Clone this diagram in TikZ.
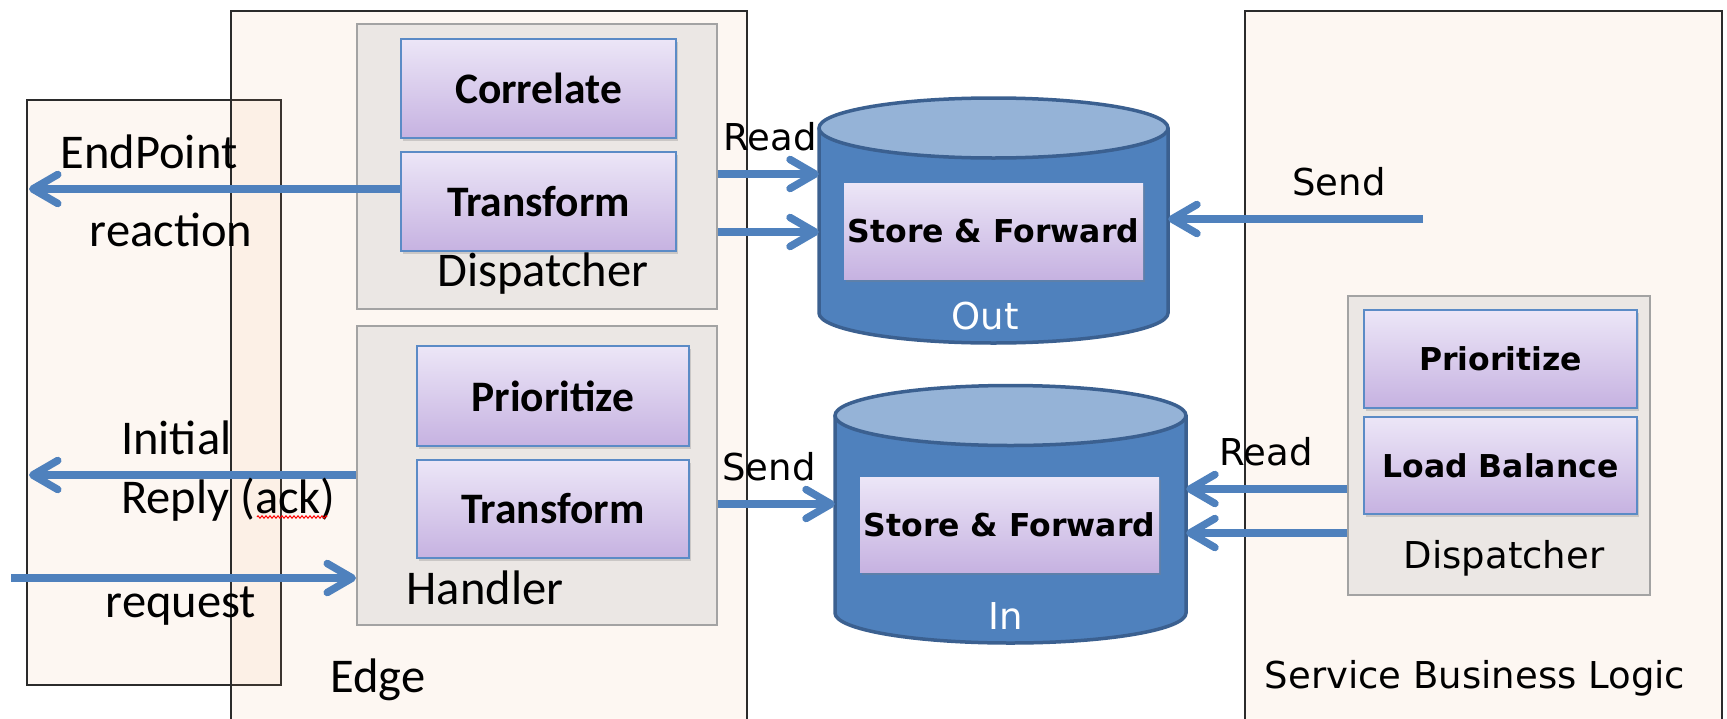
\documentclass[tikz,border=0pt]{standalone}
\usepackage{fontspec}
\setmainfont{Carlito}
\newfontfamily\vfont{DejaVu Sans}
\usetikzlibrary{arrows.meta,shadows,decorations.pathmorphing}

\definecolor{arrowblue}{HTML}{4F81BD}
\definecolor{dbbody}{HTML}{4F81BD}
\definecolor{dbtop}{HTML}{95B3D7}
\definecolor{dbline}{HTML}{3B6090}
\definecolor{boxtop}{HTML}{ECE6F7}
\definecolor{boxbot}{HTML}{C6B2E1}
\definecolor{boxline}{HTML}{5B8BC6}
\definecolor{groupfill}{HTML}{EBE7E4}
\definecolor{groupline}{HTML}{A3A3A3}
\definecolor{zonefill}{HTML}{F1A064}
\definecolor{zoneline}{HTML}{2B2B2B}

\newcommand\cbold{\fontsize{43.5pt}{52pt}\selectfont\bfseries}
\newcommand\creg{\fontsize{48.5pt}{58pt}\selectfont}
\newcommand\vreg{\vfont\fontsize{37pt}{44pt}\selectfont}
\newcommand\vbold{\vfont\fontsize{31.5pt}{38pt}\selectfont\bfseries}

\begin{document}
\begin{tikzpicture}[x=1pt,y=-1pt,
  zone/.style={draw=zoneline, line width=1.8pt, fill=zonefill, fill opacity=0.08, inner sep=0pt},
  group/.style={draw=groupline, line width=2pt, fill=groupfill, inner sep=0pt},
  proc/.style={draw=boxline, line width=2.5pt, top color=boxtop, bottom color=boxbot,
    inner sep=0pt, drop shadow={shadow xshift=2pt, shadow yshift=-3pt, opacity=0.3}},
  lbl/.style={inner sep=0pt},
  dbshape/.style={draw=dbline, line width=3.5pt},
  anchorbox/.style={inner sep=0pt, draw=none},
  flow/.style={draw=arrowblue, line width=7.5pt,
    -{Straight Barb[length=25pt, width=29pt, round]}}
]
\useasboundingbox (0,0) rectangle (1727,718);
\clip (0,0) rectangle (1727,718);
\fill[white] (0,0) rectangle (1727,718);

% outer zones
\node[zone, minimum width=254pt, minimum height=585pt] (endpoint) at (154,392.5) {};
\node[zone, minimum width=516pt, minimum height=729pt] (edge) at (489,375.5) {};
\node[zone, minimum width=477pt, minimum height=729pt] (service) at (1483.5,375.5) {};

% edge: dispatcher and handler groups
\node[group, minimum width=360pt, minimum height=285pt] (dispTop) at (537,166.5) {};
\node[group, minimum width=360pt, minimum height=299pt] (handler) at (537,475.5) {};
\node[proc, minimum width=275pt, minimum height=99pt, font=\cbold] (corr) at (538.5,88.5) {Correlate};
\node[proc, minimum width=275pt, minimum height=99pt, font=\cbold] (trTop) at (538.5,201.5) {Transform};
\node[proc, minimum width=272pt, minimum height=100pt, font=\cbold] (prLeft) at (553,396) {Prioritize};
\node[proc, minimum width=272pt, minimum height=98pt, font=\cbold] (trLeft) at (553,509) {Transform};
\node[lbl, font=\creg] (dispTopLbl) at (543,274) {Dispatcher};
\node[lbl, font=\creg] (handlerLbl) at (485,588) {Handler};

% service: dispatcher group
\node[group, minimum width=302pt, minimum height=299pt] (dispRight) at (1499,445.5) {};
\node[proc, minimum width=273pt, minimum height=98pt, font=\vbold] (prRight) at (1500.5,359) {Prioritize};
\node[proc, minimum width=273pt, minimum height=97pt, font=\vbold] (lb) at (1500.5,465.5) {Load Balance};
\node[lbl, font=\vreg] (dispRightLbl) at (1504,558) {Dispatcher};

% outgoing queue
\node[anchorbox, minimum width=349pt, minimum height=246pt] (outdb) at (993.5,220) {};
\fill[dbbody] (819,128) rectangle (1168,313);
\fill[dbbody] (993.5,313) ellipse [x radius=174.5, y radius=30];
\draw[dbshape] (819,128) -- (819,313) arc[start angle=180, end angle=0, x radius=174.5, y radius=30] -- (1168,128);
\draw[dbshape, fill=dbtop] (993.5,128) ellipse [x radius=174.5, y radius=30];
\node[proc, draw=none, minimum width=299pt, minimum height=96pt, font=\vbold] (sfOut) at (993.5,231) {Store \& Forward};
\node[lbl, font=\vreg, text=white] (outLbl) at (985,316) {Out};

% incoming queue
\node[anchorbox, minimum width=351pt, minimum height=258pt] (indb) at (1010.5,514) {};
\fill[dbbody] (835,415.5) rectangle (1186,613);
\fill[dbbody] (1010.5,613) ellipse [x radius=175.5, y radius=30];
\draw[dbshape] (835,415.5) -- (835,613) arc[start angle=180, end angle=0, x radius=175.5, y radius=30] -- (1186,415.5);
\draw[dbshape, fill=dbtop] (1010.5,415.5) ellipse [x radius=175.5, y radius=30];
\node[proc, draw=none, minimum width=299pt, minimum height=95pt, font=\vbold] (sfIn) at (1009.5,524.5) {Store \& Forward};
\node[lbl, font=\vreg, text=white] (inLbl) at (1006,616) {In};

% connector end points
\coordinate (epEnd) at (29,189);
\coordinate (irEnd) at (29,475);
\coordinate (rqStart) at (11,578);
\coordinate (ra) at (0,174);
\coordinate (rb) at (0,232);
\coordinate (sa) at (0,504);
\coordinate (srStart) at (1423,219);
\coordinate (rc) at (0,489);
\coordinate (rd) at (0,533);

% flows
\draw[flow] (trTop.west |- epEnd) -- (epEnd);
\draw[flow] (handler.west |- irEnd) -- (irEnd);
\draw[flow] (rqStart) -- (handler.west |- rqStart);
\draw[flow] (dispTop.east |- ra) -- (outdb.west |- ra);
\draw[flow] (dispTop.east |- rb) -- (outdb.west |- rb);
\draw[flow] (handler.east |- sa) -- (indb.west |- sa);
\draw[flow] (srStart) -- (outdb.east |- srStart);
\draw[flow] (dispRight.west |- rc) -- (indb.east |- rc);
\draw[flow] (dispRight.west |- rd) -- (indb.east |- rd);

% labels
\node[lbl, font=\creg] (epLbl) at (149,152) {EndPoint};
\node[lbl, font=\creg] (reactLbl) at (171,230) {reaction};
\node[lbl, font=\creg, anchor=west] (initLbl) at (121,438) {Initial};
\node[lbl, font=\creg, anchor=west] (replyLbl) at (121,500) {Reply (ack)};
\node[lbl, font=\creg] (reqLbl) at (181,606) {request};
\node[lbl, font=\creg] (edgeLbl) at (378,680) {Edge};
\node[lbl, font=\vreg] (readL) at (770,137) {Read};
\node[lbl, font=\vreg] (sendL) at (769,467) {Send};
\node[lbl, font=\vreg] (sendR) at (1339,182) {Send};
\node[lbl, font=\vreg] (readR) at (1266,452) {Read};
\node[lbl, font=\vreg] (sblLbl) at (1475,678) {Service Business Logic};

% spelling mark under "ack"
\draw[red, line width=1pt, decorate, decoration={zigzag, amplitude=1.2pt, segment length=4pt}] (257,517) -- (327,517);
\end{tikzpicture}
\end{document}
